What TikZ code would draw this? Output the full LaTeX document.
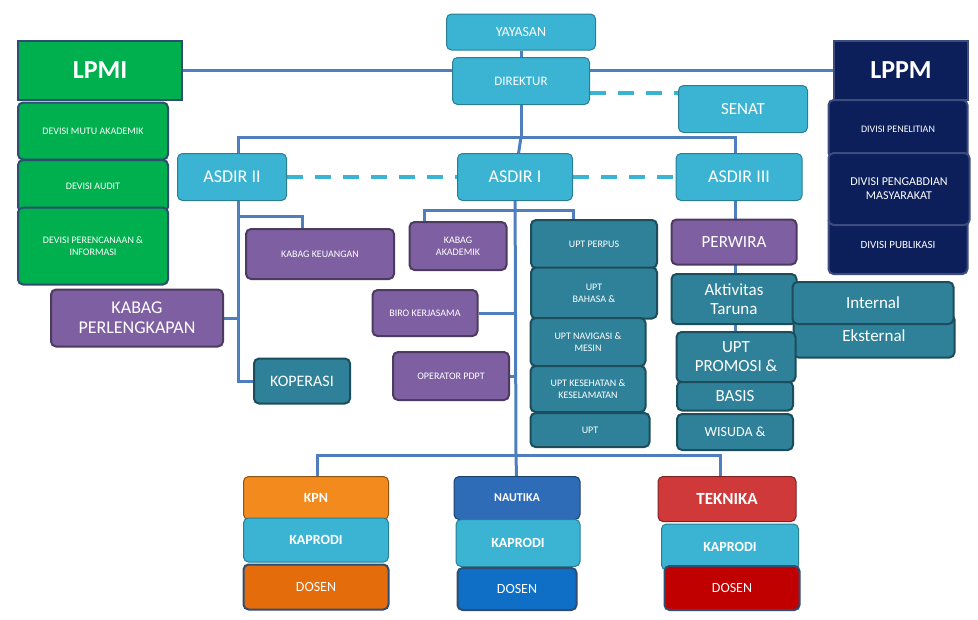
\documentclass[tikz,border=0pt]{standalone}
\usepackage{fontspec}
\setmainfont{Carlito}
\usetikzlibrary{backgrounds}
\definecolor{cyanbox}{HTML}{3BB4D4}
\definecolor{tealbox}{HTML}{2F8199}
\definecolor{purplebox}{HTML}{7E60A2}
\definecolor{greenbox}{HTML}{00AF4E}
\definecolor{navybox}{HTML}{0C1F5B}
\definecolor{linecol}{HTML}{4F7EBE}
\definecolor{kpncol}{HTML}{F28A1E}
\definecolor{dosencol}{HTML}{E46C0A}
\definecolor{nautikacol}{HTML}{2E6CB8}
\definecolor{dosenbiru}{HTML}{0F6FC6}
\definecolor{teknikacol}{HTML}{D0393A}
\definecolor{dosenmerah}{HTML}{C00000}
\begin{document}
\begin{tikzpicture}[x=1pt, y=-1pt,
			base/.style={draw, line width=2pt, rounded corners=5pt, text=white, align=center, inner sep=2pt, font=\fontsize{10}{12}\selectfont},
			bluebx/.style={base, fill=cyanbox, draw=cyanbox!70!black, line width=1pt, font=\fontsize{14}{16}\selectfont},
			tealbx/.style={base, fill=tealbox, draw=tealbox!60!black},
			purplebx/.style={base, fill=purplebox, draw=purplebox!60!black},
			greenbx/.style={base, fill=greenbox, draw=linecol!60!black},
			navybx/.style={base, fill=navybox, draw=navybox!80!white},
			sz/.style 2 args={minimum width=#1pt, minimum height=#2pt},
			link/.style={draw=linecol, line width=3pt},
			dashlink/.style={draw=cyanbox, line width=4pt, dash pattern=on 16pt off 12pt},
		]
		\useasboundingbox (0,0) rectangle (978,619);

		\node[bluebx, sz={149}{36}] (yayasan) at (521,32) {YAYASAN};
		\node[bluebx, sz={137}{47}, font=\fontsize{13}{15}\selectfont] (direktur) at (521,81) {DIREKTUR};
		\node[bluebx, sz={129}{47}, font=\fontsize{17}{19}\selectfont] (senat) at (743,109) {SENAT};
		\node[greenbx, sz={164}{59}, rounded corners=0pt, font=\fontsize{26}{28}\selectfont\bfseries] (lpmi) at (100,70) {LPMI};
		\node[navybx, sz={134}{59}, rounded corners=0pt, font=\fontsize{26}{28}\selectfont\bfseries] (lppm) at (901,70) {LPPM};
		\node[greenbx, sz={150}{57}] (mutu) at (93,131) {DEVISI MUTU AKADEMIK};
		\node[greenbx, sz={150}{52}] (audit) at (93,186) {DEVISI AUDIT};
		\node[greenbx, sz={150}{77}] (perencanaan) at (93,246) {DEVISI PERENCANAAN \&\\INFORMASI};
		\node[navybx, sz={139}{58}] (penelitian) at (898,129) {DIVISI PENELITIAN};
		\node[navybx, sz={139}{58}, font=\fontsize{11}{13}\selectfont] (publikasi) at (898,245) {DIVISI PUBLIKASI};
		\node[navybx, sz={141}{72}, font=\fontsize{12}{14}\selectfont] (pengabdian) at (899,189) {DIVISI PENGABDIAN\\MASYARAKAT};

		\node[bluebx, sz={109}{47}, font=\fontsize{18}{20}\selectfont] (asdir2) at (232,177) {ASDIR II};
		\node[bluebx, sz={115}{47}, font=\fontsize{18}{20}\selectfont] (asdir1) at (515,177) {ASDIR I};
		\node[bluebx, sz={126}{47}, font=\fontsize{18}{20}\selectfont] (asdir3) at (739,177) {ASDIR III};

		\node[purplebx, sz={148}{50}] (keuangan) at (320,254) {KABAG KEUANGAN};
		\node[purplebx, sz={172}{57}, font=\fontsize{18}{20}\selectfont] (perlengkapan) at (137,318) {KABAG\\PERLENGKAPAN};
		\node[tealbx, sz={96}{45}, font=\fontsize{16}{18}\selectfont] (koperasi) at (302,381) {KOPERASI};
		\node[purplebx, sz={97}{48}] (akademik) at (458,246) {KABAG\\AKADEMIK};
		\node[purplebx, sz={105}{46}] (kerjasama) at (425,313) {BIRO KERJASAMA};
		\node[purplebx, sz={116}{48}] (pdpt) at (451,376) {OPERATOR PDPT};

		\node[tealbx, sz={126}{48}] (perpus) at (594,244) {UPT PERPUS};
		\node[tealbx, sz={126}{51}] (bahasa) at (594,293) {UPT\\BAHASA \&};
		\node[tealbx, sz={115}{48}] (navigasi) at (588,342) {UPT NAVIGASI \&\\MESIN};
		\node[tealbx, sz={115}{46}] (kesehatan) at (588,389) {UPT KESEHATAN \&\\KESELAMATAN};
		\node[tealbx, sz={119}{34}] (ekstra) at (590,430) {UPT};

		\node[purplebx, sz={125}{45}, font=\fontsize{17}{19}\selectfont] (perwira) at (734,242) {PERWIRA};
		\node[tealbx, sz={125}{50}, font=\fontsize{17}{19}\selectfont] (aktivitas) at (734,299) {Aktivitas\\Taruna};
		\node[tealbx, sz={161}{43}, font=\fontsize{17}{19}\selectfont] (eksternal) at (874,336) {Eksternal};
		\node[tealbx, sz={161}{42}, font=\fontsize{17}{19}\selectfont] (internal) at (873,303) {Internal};
		\node[tealbx, sz={116}{29}, font=\fontsize{17}{19}\selectfont] (basis) at (735,396) {BASIS};
		\node[tealbx, sz={119}{50}, font=\fontsize{17}{19}\selectfont] (promosi) at (736,357) {UPT\\PROMOSI \&};
		\node[tealbx, sz={116}{36}, font=\fontsize{14}{16}\selectfont] (wisuda) at (735,432) {WISUDA \&};

		\node[base, fill=kpncol, draw=kpncol!60!black, line width=1pt, sz={145}{43}, font=\fontsize{14}{16}\selectfont\bfseries] (kpn) at (316,498) {KPN};
		\node[bluebx, sz={145}{44}, font=\fontsize{14}{16}\selectfont\bfseries] (kaprodi1) at (316,540) {KAPRODI};
		\node[base, fill=dosencol, draw=linecol!60!black, sz={145}{45}, font=\fontsize{14}{16}\selectfont] (dosen1) at (316,587) {DOSEN};
		\node[base, fill=nautikacol, draw=nautikacol!60!black, line width=1pt, sz={126}{43}, font=\fontsize{12}{14}\selectfont\bfseries] (nautika) at (517,498) {NAUTIKA};
		\node[bluebx, sz={124}{47}, font=\fontsize{14}{16}\selectfont\bfseries] (kaprodi2) at (518,543) {KAPRODI};
		\node[base, fill=dosenbiru, draw=linecol!60!black, sz={119}{42}, font=\fontsize{14}{16}\selectfont] (dosen2) at (517,589) {DOSEN};
		\node[base, fill=teknikacol, draw=teknikacol!60!black, line width=1pt, sz={138}{45}, font=\fontsize{17}{19}\selectfont\bfseries] (teknika) at (727,499) {TEKNIKA};
		\node[bluebx, sz={137}{46}, font=\fontsize{14}{16}\selectfont\bfseries] (kaprodi3) at (730,547) {KAPRODI};
		\node[base, fill=dosenmerah, draw=linecol!60!black, sz={135}{44}, font=\fontsize{14}{16}\selectfont] (dosen3) at (732,588) {DOSEN};

		\coordinate (barA) at (521,137);
		\coordinate (barB) at (516,455);

		\begin{scope}[on background layer]
		\path[link] (lpmi.east) -- (lppm.west);
		\path[link] (yayasan) -- (direktur);
		\path[dashlink] (direktur.east |- 0,93) -- (senat.west |- 0,93);
		\path[link] (direktur) -- (barA);
		\path[link] (asdir2.north -| 238,0) |- (barA) -| (asdir3.north -| 735,0);
		\path[link] (barA) -- (asdir1);
		\path[dashlink] (asdir2) -- (asdir1);
		\path[dashlink] (asdir1) -- (asdir3);
		% ASDIR II
		\path[link] (asdir2.south -| 238,0) |- (koperasi.west);
		\path[link] (238,216) -| (keuangan.north -| 302,0);
		\path[link] (perlengkapan.east) -- (perlengkapan.east -| 238,0);
		% ASDIR I
		\path[link] (asdir1) -- (barB);
		\path[link] (akademik.north -| 424,0) |- (516,210) -| (perpus.north -| 573,0);
		\path[link] (kerjasama.east) -- (kerjasama.east -| 516,0);
		\path[link] (pdpt.east) -- (pdpt.east -| 516,0);
		\path[link] (kpn.north -| 317,0) |- (barB) -| (teknika.north -| 720,0);
		\path[link] (barB) -- (nautika);
		% ASDIR III
		\path[link] (asdir3.south -| 735,0) -- (promosi.north -| 735,0);
		\end{scope}
		\end{tikzpicture}
\end{document}
